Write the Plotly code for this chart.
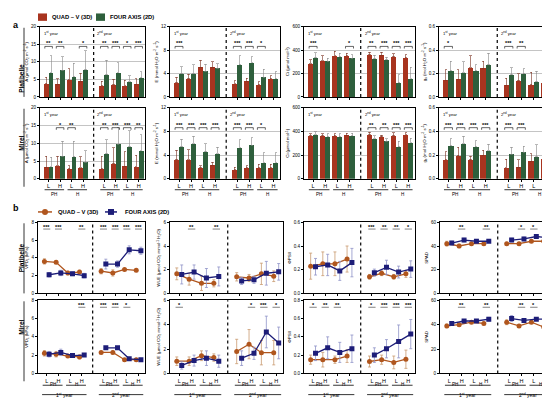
import plotly.graph_objects as go

# ---------------- data ----------------
tick_labels = ["L", "H", "L", "H", "L", "H", "L", "H"]
pair_labels = ["PH", "H"]
year_labels = ["1<sup>st</sup> year", "2<sup>nd</sup> year"]
series_names = ["QUAD – V (3D)", "FOUR AXIS (2D)"]
row_names = ["Platibelle", "Mirel"]

# part a (bars) order: 1st yr PH-L, PH-H, H-L, H-H, 2nd yr PH-L, PH-H, H-L, H-H
A_plat_quad = [3.8, 3.6, 5.0, 4.5, 3.2, 3.5, 3.3, 3.6]
A_plat_quad_err = [1.8, 1.6, 3.0, 2.2, 1.2, 1.6, 1.4, 1.6]
A_plat_four = [7.0, 7.6, 5.8, 7.8, 6.3, 7.0, 4.4, 5.4]
A_plat_four_err = [4.8, 3.8, 3.8, 5.4, 4.2, 2.8, 1.6, 1.8]
A_plat_sig = ["**", "**", "", "*", "**", "***", "*", "***"]
A_mirel_quad = [3.3, 3.8, 2.9, 3.2, 2.9, 4.3, 3.6, 3.5]
A_mirel_quad_err = [3.0, 2.6, 0.8, 3.0, 3.4, 4.4, 4.0, 3.2]
A_mirel_four = [3.5, 6.4, 6.2, 4.7, 7.0, 9.8, 9.0, 8.0]
A_mirel_four_err = [2.6, 4.2, 4.4, 3.2, 4.0, 4.6, 4.6, 4.4]
A_mirel_sig = ["", "*", "**", "", "**", "***", "***", "**"]

E_plat_quad = [2.4, 3.1, 5.1, 5.1, 2.3, 2.7, 2.1, 3.1]
E_plat_quad_err = [1.0, 0.8, 1.2, 0.9, 0.5, 0.5, 0.5, 0.5]
E_plat_four = [4.0, 4.0, 4.4, 4.9, 5.5, 5.9, 3.4, 3.1]
E_plat_four_err = [1.2, 1.5, 1.2, 0.8, 1.5, 1.0, 1.3, 1.2]
E_plat_sig = ["***", "", "", "", "***", "***", "*", ""]
E_mirel_quad = [3.2, 3.3, 1.9, 2.3, 1.5, 1.9, 1.9, 1.9]
E_mirel_quad_err = [1.6, 1.6, 0.3, 0.5, 0.5, 0.3, 0.6, 0.6]
E_mirel_four = [5.4, 6.0, 4.6, 4.3, 5.3, 5.7, 2.8, 2.8]
E_mirel_four_err = [1.3, 1.2, 1.3, 1.0, 1.3, 1.2, 1.6, 1.6]
E_mirel_sig = ["***", "***", "***", "***", "***", "***", "*", ""]

Ci_plat_quad = [286, 312, 355, 350, 362, 358, 345, 337]
Ci_plat_quad_err = [30, 40, 35, 25, 20, 25, 25, 25]
Ci_plat_four = [337, 305, 345, 331, 328, 316, 119, 158]
Ci_plat_four_err = [40, 25, 30, 30, 30, 25, 70, 95]
Ci_plat_sig = ["***", "", "", "*", "**", "***", "***", "***"]
Ci_mirel_quad = [365, 365, 365, 370, 372, 355, 365, 376]
Ci_mirel_quad_err = [15, 15, 15, 15, 20, 15, 25, 15]
Ci_mirel_four = [376, 355, 355, 363, 342, 319, 272, 307]
Ci_mirel_four_err = [20, 25, 25, 20, 20, 20, 45, 35]
Ci_mirel_sig = ["", "", "", "", "**", "**", "***", "***"]

gs_plat_quad = [0.144, 0.153, 0.252, 0.245, 0.10, 0.138, 0.103, 0.12]
gs_plat_quad_err = [0.09, 0.08, 0.10, 0.06, 0.06, 0.06, 0.11, 0.10]
gs_plat_four = [0.223, 0.21, 0.223, 0.275, 0.19, 0.20, 0.13, 0.13]
gs_plat_four_err = [0.08, 0.09, 0.05, 0.10, 0.06, 0.04, 0.09, 0.09]
gs_plat_sig = ["*", "", "", "", "***", "**", "", ""]
gs_mirel_quad = [0.16, 0.197, 0.16, 0.20, 0.096, 0.10, 0.15, 0.168]
gs_mirel_quad_err = [0.07, 0.07, 0.03, 0.04, 0.07, 0.06, 0.06, 0.06]
gs_mirel_four = [0.28, 0.30, 0.27, 0.24, 0.208, 0.225, 0.188, 0.18]
gs_mirel_four_err = [0.06, 0.06, 0.05, 0.05, 0.06, 0.05, 0.10, 0.12]
gs_mirel_sig = ["***", "***", "***", "***", "***", "***", "", ""]

# part b (lines)
VPD_plat_quad = [3.6, 3.5, 2.3, 2.4, 2.5, 2.3, 2.7, 2.6]
VPD_plat_quad_err = [0.3, 0.15, 0.2, 0.2, 0.3, 0.35, 0.1, 0.15]
VPD_plat_four = [2.1, 2.3, 2.2, 2.0, 3.3, 3.3, 4.9, 4.8]
VPD_plat_four_err = [0.25, 0.3, 0.2, 0.25, 0.55, 0.35, 0.45, 0.4]
VPD_plat_sig = ["***", "***", "", "**", "***", "***", "***", "***"]
VPD_mirel_quad = [2.2, 2.1, 1.9, 1.8, 2.3, 2.3, 1.5, 1.5]
VPD_mirel_quad_err = [0.3, 0.3, 0.15, 0.2, 0.1, 0.15, 0.1, 0.1]
VPD_mirel_four = [2.1, 2.3, 1.95, 2.0, 2.8, 2.8, 1.6, 1.5]
VPD_mirel_four_err = [0.3, 0.35, 0.2, 0.15, 0.15, 0.15, 0.1, 0.1]
VPD_mirel_sig = ["", "", "", "***", "***", "***", "*", ""]

WUE_plat_quad = [1.65, 1.2, 0.85, 0.85, 1.4, 1.3, 1.65, 1.45]
WUE_plat_quad_err = [0.5, 0.5, 0.6, 0.3, 0.35, 0.3, 0.9, 0.45]
WUE_plat_four = [1.6, 1.8, 1.3, 1.43, 1.05, 1.15, 1.7, 1.82]
WUE_plat_four_err = [0.8, 0.6, 0.8, 0.8, 0.3, 0.3, 1.0, 0.7]
WUE_plat_sig = ["", "**", "", "**", "", "", "", ""]
WUE_mirel_quad = [1.0, 1.0, 1.45, 1.3, 1.8, 2.4, 1.7, 1.7]
WUE_mirel_quad_err = [0.35, 0.35, 0.4, 0.3, 1.0, 1.2, 1.0, 1.0]
WUE_mirel_four = [0.65, 1.05, 1.25, 1.0, 1.25, 1.65, 3.4, 2.5]
WUE_mirel_four_err = [0.3, 0.45, 0.6, 0.5, 0.6, 0.5, 1.3, 1.3]
WUE_mirel_sig = ["*", "", "", "", "", "*", "***", "*"]

PSII_plat_quad = [0.23, 0.25, 0.25, 0.29, 0.14, 0.17, 0.14, 0.165]
PSII_plat_quad_err = [0.11, 0.10, 0.10, 0.11, 0.02, 0.02, 0.02, 0.03]
PSII_plat_four = [0.225, 0.24, 0.19, 0.26, 0.175, 0.22, 0.18, 0.205]
PSII_plat_four_err = [0.07, 0.09, 0.08, 0.12, 0.03, 0.06, 0.05, 0.07]
PSII_plat_sig = ["", "", "", "", "***", "**", "**", "*"]
PSII_mirel_quad = [0.15, 0.15, 0.15, 0.19, 0.13, 0.15, 0.12, 0.155]
PSII_mirel_quad_err = [0.05, 0.08, 0.04, 0.07, 0.06, 0.05, 0.07, 0.10]
PSII_mirel_four = [0.22, 0.28, 0.23, 0.27, 0.20, 0.27, 0.35, 0.43]
PSII_mirel_four_err = [0.08, 0.12, 0.11, 0.15, 0.08, 0.10, 0.18, 0.16]
PSII_mirel_sig = ["*", "**", "**", "", "*", "***", "***", "***"]

SPAD_plat_quad = [42, 40, 42, 42, 42, 42, 44, 44]
SPAD_plat_quad_err = [2, 1.5, 1, 1, 1, 1, 1, 1]
SPAD_plat_four = [42.5, 45, 44, 44, 45, 46, 48, 47]
SPAD_plat_four_err = [1.5, 1.5, 1.5, 1, 1.5, 1.5, 1.5, 2]
SPAD_plat_sig = ["", "**", "", "**", "", "*", "*", ""]
SPAD_mirel_quad = [39, 40, 42, 41, 42, 39, 42, 38]
SPAD_mirel_quad_err = [1.5, 1, 1, 1, 2, 1, 1, 3]
SPAD_mirel_four = [41, 43, 43, 44.5, 45, 43.5, 44.5, 44.5]
SPAD_mirel_four_err = [1, 1, 1, 1.5, 2.5, 1.5, 1, 1.5]
SPAD_mirel_sig = ["", "**", "", "**", "", "**", "*", "*"]

# ---------------- style ----------------
W, H = 550, 399
FONT = "Liberation Sans, Arial, sans-serif"
RED = "#A8341F"
GREEN = "#2E5F3C"
LRED = "#B0561E"
BLUE = "#1D1D78"
RED_ERR = "#C99A70"
BLUE_ERR = "#8F93C8"

def px(x):
    return x / W

def py(y):
    return 1 - y / H

def sfx(i):
    return "" if i == 1 else str(i)

xpos = [i + (0.85 if i >= 4 else 0) for i in range(8)]
XR = [-0.75, 8.4]
SEP = (xpos[3] + xpos[4]) / 2

cols_a = [(32, 137), (162, 272), (296, 407), (431, 545)]
rows_a = [(17, 88), (99, 171)]
cols_b = [(30, 137), (162, 275), (296, 407), (432, 545)]
rows_b = [(215, 287), (294, 368)]

T_A = "A (µmol CO<sub>2</sub> m<sup>-2</sup> s<sup>-1</sup>)"
T_E = "E (mmol H<sub>2</sub>O m<sup>-2</sup> s<sup>-1</sup>)"
T_CI = "Ci (µmol mol<sup>-1</sup>)"
T_GS = "g<sub>s</sub> (mol H<sub>2</sub>O m<sup>-2</sup> s<sup>-1</sup>)"
T_VPD = "VPD<sub>L</sub> (kPa)"
T_WUE = "WUE (µmol CO<sub>2</sub> mmol<sup>-1</sup> H<sub>2</sub>O)"

panels_a = [
    (0, 0, A_plat_quad, A_plat_quad_err, A_plat_four, A_plat_four_err, A_plat_sig, 20, 5, "", T_A),
    (0, 1, E_plat_quad, E_plat_quad_err, E_plat_four, E_plat_four_err, E_plat_sig, 12, 4, "", T_E),
    (0, 2, Ci_plat_quad, Ci_plat_quad_err, Ci_plat_four, Ci_plat_four_err, Ci_plat_sig, 600, 200, "", T_CI),
    (0, 3, gs_plat_quad, gs_plat_quad_err, gs_plat_four, gs_plat_four_err, gs_plat_sig, 0.6, 0.2, ".1f", T_GS),
    (1, 0, A_mirel_quad, A_mirel_quad_err, A_mirel_four, A_mirel_four_err, A_mirel_sig, 20, 5, "", T_A),
    (1, 1, E_mirel_quad, E_mirel_quad_err, E_mirel_four, E_mirel_four_err, E_mirel_sig, 12, 4, "", T_E),
    (1, 2, Ci_mirel_quad, Ci_mirel_quad_err, Ci_mirel_four, Ci_mirel_four_err, Ci_mirel_sig, 600, 200, "", T_CI),
    (1, 3, gs_mirel_quad, gs_mirel_quad_err, gs_mirel_four, gs_mirel_four_err, gs_mirel_sig, 0.6, 0.2, ".1f", T_GS),
]
panels_b = [
    (0, 0, VPD_plat_quad, VPD_plat_quad_err, VPD_plat_four, VPD_plat_four_err, VPD_plat_sig, 8, 2, "", T_VPD),
    (0, 1, WUE_plat_quad, WUE_plat_quad_err, WUE_plat_four, WUE_plat_four_err, WUE_plat_sig, 6, 2, "", T_WUE),
    (0, 2, PSII_plat_quad, PSII_plat_quad_err, PSII_plat_four, PSII_plat_four_err, PSII_plat_sig, 0.6, 0.2, ".1f", "ΦPSII"),
    (0, 3, SPAD_plat_quad, SPAD_plat_quad_err, SPAD_plat_four, SPAD_plat_four_err, SPAD_plat_sig, 60, 20, "", "SPAD"),
    (1, 0, VPD_mirel_quad, VPD_mirel_quad_err, VPD_mirel_four, VPD_mirel_four_err, VPD_mirel_sig, 8, 2, "", T_VPD),
    (1, 1, WUE_mirel_quad, WUE_mirel_quad_err, WUE_mirel_four, WUE_mirel_four_err, WUE_mirel_sig, 6, 2, "", T_WUE),
    (1, 2, PSII_mirel_quad, PSII_mirel_quad_err, PSII_mirel_four, PSII_mirel_four_err, PSII_mirel_sig, 0.8, 0.2, ".1f", "ΦPSII"),
    (1, 3, SPAD_mirel_quad, SPAD_mirel_quad_err, SPAD_mirel_four, SPAD_mirel_four_err, SPAD_mirel_sig, 60, 20, "", "SPAD"),
]

fig = go.Figure()
layout = {}
shapes = []
annotations = []

def axis_setup(i, xd, yd, ymax, dtick, fmt, title, bottom, grid):
    s = sfx(i)
    xa = dict(
        domain=[px(xd[0]), px(xd[1])], anchor=f"y{s}", range=XR,
        tickvals=xpos, showticklabels=bottom,
        ticks="outside", ticklen=2, tickwidth=0.8, tickcolor="black",
        showline=True, mirror=True, linecolor="black", linewidth=1,
        showgrid=False, zeroline=False,
        tickfont=dict(size=5.5, family=FONT, color="black"),
    )
    if bottom:
        xa["ticktext"] = tick_labels
    layout[f"xaxis{s}"] = xa
    layout[f"yaxis{s}"] = dict(
        domain=[py(yd[1]), py(yd[0])], anchor=f"x{s}", range=[0, ymax],
        dtick=dtick, tick0=0, tickformat=fmt,
        ticks="outside", ticklen=2, tickwidth=0.8, tickcolor="black",
        showline=True, mirror=True, linecolor="black", linewidth=1,
        showgrid=grid, gridcolor="#c4c4c4", gridwidth=0.5, zeroline=False,
        tickfont=dict(size=4.6, family=FONT, color="black"),
        title=dict(text=title, font=dict(size=4.4, family=FONT, color="black"), standoff=2),
    )
    shapes.append(dict(type="line", xref=f"x{s}", yref=f"y{s} domain", x0=SEP, x1=SEP, y0=0, y1=1,
                       line=dict(color="black", width=1.2, dash="dot")))

# ---- part a ----
for k, (r, c, q, qe, f, fe, sig, ymax, dt, fmt, title) in enumerate(panels_a):
    i = k + 1
    s_ = sfx(i)
    axis_setup(i, cols_a[c], rows_a[r], ymax, dt, fmt, title, r == 1, True)
    fig.add_trace(go.Bar(x=xpos, y=q, width=0.42, offset=-0.42, marker=dict(color=RED, line=dict(width=0)),
                         error_y=dict(type="data", array=qe, arrayminus=[0] * 8, symmetric=False,
                                      color="#7a3020", thickness=0.6, width=1.2),
                         name=series_names[0], showlegend=False,
                         xaxis=f"x{s_}", yaxis=f"y{s_}"))
    fig.add_trace(go.Bar(x=xpos, y=f, width=0.42, offset=0, marker=dict(color=GREEN, line=dict(width=0)),
                         error_y=dict(type="data", array=fe, arrayminus=[0] * 8, symmetric=False,
                                      color="#888888", thickness=0.6, width=1.2),
                         name=series_names[1], showlegend=False,
                         xaxis=f"x{s_}", yaxis=f"y{s_}"))
    yb = 0.72 * ymax
    yt = 0.69 * ymax
    for g, s in enumerate(sig):
        if s:
            cx = xpos[g]
            shapes.append(dict(type="path", xref=f"x{s_}", yref=f"y{s_}",
                               path=f"M {cx-0.33},{yt} L {cx-0.33},{yb} L {cx+0.33},{yb} L {cx+0.33},{yt}",
                               line=dict(color="black", width=0.6)))
            annotations.append(dict(x=cx, y=yb, xref=f"x{s_}", yref=f"y{s_}", text=f"<b>{s}</b>",
                                    showarrow=False, yanchor="bottom", yshift=-2,
                                    font=dict(size=5.5, family=FONT, color="black")))
    for h, xx in enumerate([XR[0] + 0.15, SEP + 0.15]):
        annotations.append(dict(x=xx, y=0.985 * ymax, xref=f"x{s_}", yref=f"y{s_}", text=year_labels[h],
                                showarrow=False, xanchor="left", yanchor="top",
                                font=dict(size=4.2, family=FONT, color="black")))
    if r == 1:
        for pidx in range(4):
            a0, a1 = xpos[2 * pidx], xpos[2 * pidx + 1]
            shapes.append(dict(type="line", xref=f"x{s_}", yref="paper", x0=a0 - 0.35, x1=a1 + 0.35,
                               y0=py(182), y1=py(182), line=dict(color="black", width=0.8)))
            annotations.append(dict(x=(a0 + a1) / 2, y=py(186.5), xref=f"x{s_}", yref="paper",
                                    text=pair_labels[pidx % 2], showarrow=False,
                                    font=dict(size=4.6, family=FONT, color="black")))

# ---- part b ----
for k, (r, c, q, qe, f, fe, sig, ymax, dt, fmt, title) in enumerate(panels_b):
    i = k + 9
    s_ = sfx(i)
    axis_setup(i, cols_b[c], rows_b[r], ymax, dt, fmt, title, r == 1, False)
    for (vals, errs, col, ecol, sym, dx, nm) in [
        (q, qe, LRED, RED_ERR, "circle", -0.2, series_names[0]),
        (f, fe, BLUE, BLUE_ERR, "square", 0.2, series_names[1]),
    ]:
        xs = [x + dx for x in xpos[:4]] + [None] + [x + dx for x in xpos[4:]]
        ys = list(vals[:4]) + [None] + list(vals[4:])
        es = list(errs[:4]) + [0] + list(errs[4:])
        fig.add_trace(go.Scatter(x=xs, y=ys, mode="lines+markers",
                                 line=dict(color=col, width=1.3),
                                 marker=dict(symbol=sym, size=5, color=col),
                                 error_y=dict(type="data", array=es, color=ecol, thickness=0.8, width=1.5),
                                 name=nm, showlegend=False,
                                 xaxis=f"x{s_}", yaxis=f"y{s_}"))
    ys_ = 0.905 * ymax
    for g, s in enumerate(sig):
        if s:
            cx = xpos[g]
            shapes.append(dict(type="line", xref=f"x{s_}", yref=f"y{s_}", x0=cx - 0.3, x1=cx + 0.3,
                               y0=ys_, y1=ys_, line=dict(color="black", width=0.5)))
            annotations.append(dict(x=cx, y=ys_, xref=f"x{s_}", yref=f"y{s_}", text=f"<b>{s}</b>",
                                    showarrow=False, yanchor="bottom", yshift=-3,
                                    font=dict(size=5.5, family=FONT, color="black")))
    if r == 1:
        for pidx in range(4):
            a0, a1 = xpos[2 * pidx], xpos[2 * pidx + 1]
            shapes.append(dict(type="line", xref=f"x{s_}", yref="paper", x0=a0 - 0.35, x1=a1 + 0.35,
                               y0=py(380), y1=py(380), line=dict(color="black", width=0.8)))
            annotations.append(dict(x=(a0 + a1) / 2, y=py(384), xref=f"x{s_}", yref="paper",
                                    text=pair_labels[pidx % 2], showarrow=False,
                                    font=dict(size=4.6, family=FONT, color="black")))
        for h in range(2):
            a0, a1 = xpos[4 * h], xpos[4 * h + 3]
            shapes.append(dict(type="line", xref=f"x{s_}", yref="paper", x0=a0 - 0.4, x1=a1 + 0.4,
                               y0=py(389.5), y1=py(389.5), line=dict(color="black", width=0.8)))
            annotations.append(dict(x=(a0 + a1) / 2, y=py(394.5), xref=f"x{s_}", yref="paper",
                                    text=year_labels[h], showarrow=False,
                                    font=dict(size=5, family=FONT, color="black")))

# ---- row labels, part letters ----
for rows in (rows_a, rows_b):
    for r, (y0, y1) in enumerate(rows):
        annotations.append(dict(x=px(8), y=py((y0 + y1) / 2), xref="paper", yref="paper",
                                text=f"<b>{row_names[r]}</b>", textangle=-90, showarrow=False,
                                font=dict(size=6.5, family=FONT, color="black")))
        shapes.append(dict(type="line", xref="paper", yref="paper", x0=px(16), x1=px(16),
                           y0=py(y0 + 1), y1=py(y1 + 8 if r == 1 else y1),
                           line=dict(color="black", width=0.8)))

annotations.append(dict(x=px(3), y=py(8), xref="paper", yref="paper", text="<b>a</b>", showarrow=False,
                        xanchor="left", font=dict(size=9, family=FONT, color="black")))
annotations.append(dict(x=px(3), y=py(201), xref="paper", yref="paper", text="<b>b</b>", showarrow=False,
                        xanchor="left", font=dict(size=9, family=FONT, color="black")))

# ---- legends (drawn as keys + text) ----
LEGF = dict(size=5.8, family=FONT, color="black")
for (x0, col, nm, tx) in [(30, RED, series_names[0], 42), (88, GREEN, series_names[1], 100)]:
    shapes.append(dict(type="rect", xref="paper", yref="paper", x0=px(x0), x1=px(x0 + 9),
                       y0=py(11), y1=py(3.5), fillcolor=col, line=dict(width=0)))
    annotations.append(dict(x=px(tx), y=py(7.3), xref="paper", yref="paper", text=f"<b>{nm}</b>",
                            showarrow=False, xanchor="left", yanchor="middle", font=LEGF))
for (x0, x1, col, sym, nm, tx) in [(30, 44, LRED, "circle", series_names[0], 48),
                                   (97, 109, BLUE, "square", series_names[1], 115)]:
    shapes.append(dict(type="line", xref="paper", yref="paper", x0=px(x0), x1=px(x1),
                       y0=py(204.5), y1=py(204.5), line=dict(color=col, width=1.5)))
    cx = (x0 + x1) / 2
    shapes.append(dict(type="circle" if sym == "circle" else "rect", xref="paper", yref="paper",
                       x0=px(cx - 3), x1=px(cx + 3), y0=py(207.5), y1=py(201.5),
                       fillcolor=col, line=dict(width=0)))
    annotations.append(dict(x=px(tx), y=py(204.8), xref="paper", yref="paper", text=f"<b>{nm}</b>",
                            showarrow=False, xanchor="left", yanchor="middle", font=LEGF))

fig.update_layout(
    width=W, height=H, margin=dict(l=0, r=0, t=0, b=0),
    paper_bgcolor="white", plot_bgcolor="white",
    barmode="overlay", bargap=0, showlegend=False,
    font=dict(family=FONT, size=6, color="black"),
    shapes=shapes, annotations=annotations,
    **layout,
)

fig.write_html("out.html")
